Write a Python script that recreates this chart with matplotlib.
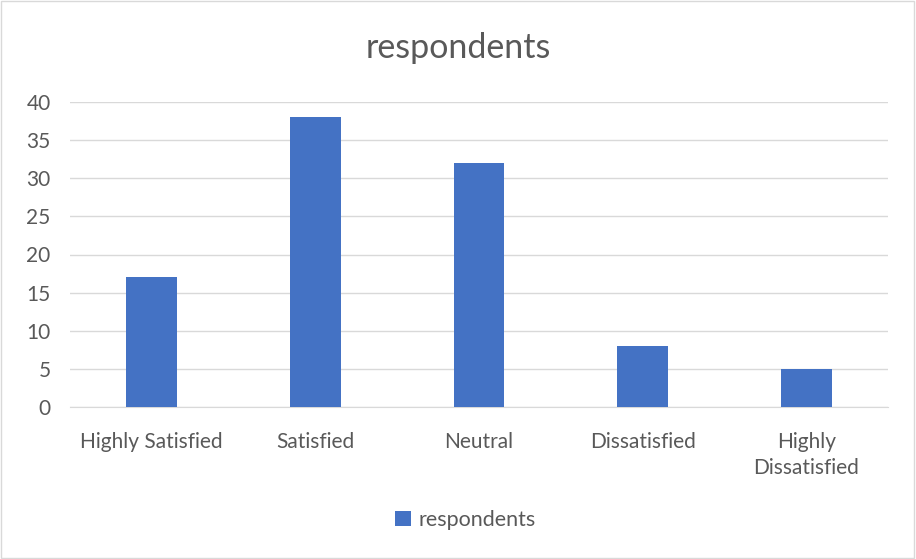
import matplotlib.pyplot as plt
from matplotlib.patches import Rectangle

categories = ["Highly Satisfied", "Satisfied", "Neutral", "Dissatisfied", "Highly\nDissatisfied"]
respondents = [17, 38, 32, 8, 5]
yticks = [0, 5, 10, 15, 20, 25, 30, 35, 40]

plt.rcParams['font.family'] = ['Lato', 'DejaVu Sans']
text_color = '#595959'
bar_color = '#4472C4'

fig = plt.figure(figsize=(9.16, 5.59), dpi=100)
ax = fig.add_axes([70 / 916, 1 - 407 / 559, 818 / 916, 305 / 559])

x = range(len(categories))
ax.bar(x, respondents, width=0.31, color=bar_color, label='respondents', zorder=3)

ax.set_xlim(-0.5, len(categories) - 0.5)
ax.set_ylim(0, 40)
ax.set_yticks(yticks)
ax.set_xticks(list(x))
ax.set_xticklabels(categories, fontsize=15, color=text_color, linespacing=1.35)
ax.tick_params(axis='y', labelsize=15, colors=text_color, length=0, pad=14)
ax.tick_params(axis='x', length=0, pad=18)
ax.grid(axis='y', color='#D9D9D9', linewidth=1, zorder=0)
for s in ['top', 'right', 'left']:
    ax.spines[s].set_visible(False)
ax.spines['bottom'].set_color('#D9D9D9')

fig.text(0.5, 1 - 48 / 559, 'respondents', ha='center', va='center', fontsize=24.5, color=text_color)

leg = fig.legend(loc='center', bbox_to_anchor=(0.508, 1 - 520 / 559), frameon=False,
                 fontsize=15.5, handlelength=0.75, handleheight=0.75, handletextpad=0.35)
for t in leg.get_texts():
    t.set_color(text_color)

# chart border
fig.patches.append(Rectangle((0.001, 0.001), 0.997, 0.997, transform=fig.transFigure,
                             fill=False, edgecolor='#D9D9D9', linewidth=1))

fig.savefig('out.png', dpi=100)
